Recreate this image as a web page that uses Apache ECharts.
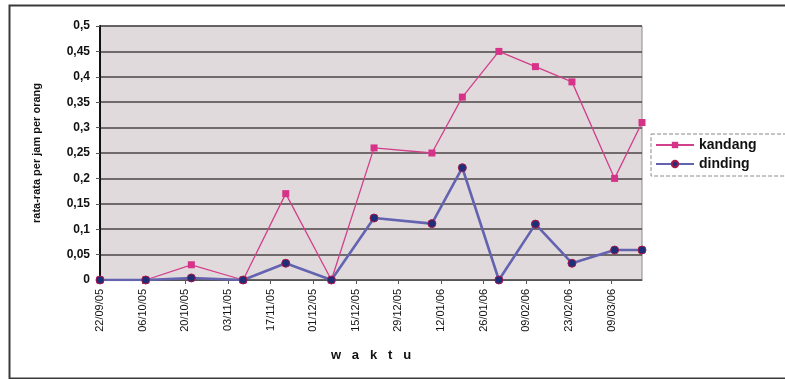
<!DOCTYPE html>
<html>
<head>
<meta charset="utf-8">
<script src="https://cdn.jsdelivr.net/npm/echarts@6/dist/echarts.min.js"></script>
<style>
  html, body { margin: 0; padding: 0; background: #ffffff; }
  #chart { width: 785px; height: 379px; }
</style>
</head>
<body>
<div id="chart"></div>
<script>
// Observation dates and mean values per hour per person
const tanggal = ['2005-09-22','2005-10-07','2005-10-22','2005-11-08','2005-11-22','2005-12-07','2005-12-21',
                 '2006-01-09','2006-01-19','2006-01-31','2006-02-12','2006-02-24','2006-03-10','2006-03-19'];
const kandang = [0, 0, 0.03, 0, 0.17, 0, 0.26, 0.25, 0.36, 0.45, 0.42, 0.39, 0.2, 0.31];
const dinding = [0, 0, 0.004, 0, 0.033, 0, 0.122, 0.111, 0.221, 0, 0.11, 0.033, 0.059, 0.059];
const yTicks = { min: 0, max: 0.5, step: 0.05 };
const xStepDays = 14;

const DAY = 86400000;
const t0 = Date.parse(tanggal[0]);
const hari = tanggal.map(d => Math.round((Date.parse(d) - t0) / DAY));
const pad = n => (n < 10 ? '0' : '') + n;
function fmtTanggal(offset) {
  const d = new Date(t0 + offset * DAY);
  return pad(d.getUTCDate()) + '/' + pad(d.getUTCMonth() + 1) + '/' + pad(d.getUTCFullYear() % 100);
}

const font = 'Liberation Sans, Arial, sans-serif';
const chart = echarts.init(document.getElementById('chart'), null, { renderer: 'canvas' });

chart.setOption({
  animation: false,
  backgroundColor: '#ffffff',
  graphic: [{
    type: 'rect', left: 7, top: 3, z: -10,
    shape: { width: 790, height: 373 },
    style: { fill: 'none', stroke: '#3a3a3a', lineWidth: 2 }
  }],
  grid: { left: 100, top: 26, right: 143, bottom: 99, show: true, backgroundColor: '#e1dadd', borderColor: '#8a8a8a', borderWidth: 1 },
  legend: {
    left: 651, top: 134, orient: 'vertical', itemGap: 5, itemWidth: 38, itemHeight: 8,
    padding: [4, 30, 5, 4],
    borderColor: '#8a8a8a', borderWidth: 1, borderType: 'dashed',
    textStyle: { fontFamily: font, fontWeight: 'bold', fontSize: 14, color: '#111' },
    data: ['kandang', 'dinding']
  },
  xAxis: {
    type: 'value', min: 0, max: hari[hari.length - 1], interval: xStepDays,
    name: 'w   a   k   t   u', nameLocation: 'middle', nameGap: 69,
    nameTextStyle: { fontFamily: font, fontWeight: 'bold', fontSize: 13, color: '#111' },
    axisLine: { show: true, lineStyle: { color: '#555', width: 1 } },
    axisTick: { show: true, length: 4, lineStyle: { color: '#555' } },
    splitLine: { show: false },
    axisLabel: {
      rotate: 90, margin: 9, showMaxLabel: false,
      fontFamily: font, fontSize: 11, color: '#111',
      formatter: v => (v % xStepDays === 0 ? fmtTanggal(v) : '')
    }
  },
  yAxis: {
    type: 'value', min: yTicks.min, max: yTicks.max, interval: yTicks.step,
    name: 'rata-rata per jam per orang', nameLocation: 'middle', nameGap: 58, nameRotate: 90,
    nameTextStyle: { fontFamily: font, fontWeight: 'bold', fontSize: 11, color: '#111' },
    axisLine: { show: true, lineStyle: { color: '#111', width: 2 } },
    axisTick: { show: true, length: 4, lineStyle: { color: '#555' } },
    splitLine: { show: true, lineStyle: { color: '#4a4444', width: 1.5 } },
    axisLabel: {
      margin: 10, fontFamily: font, fontWeight: 'bold', fontSize: 12, color: '#111',
      formatter: v => String(+v.toFixed(2)).replace('.', ',')
    }
  },
  series: [
    {
      name: 'kandang', type: 'line',
      data: hari.map((h, i) => [h, kandang[i]]),
      symbol: 'rect', symbolSize: 7,
      lineStyle: { color: '#d23f8a', width: 1.3 },
      itemStyle: { color: '#d7328a' },
      z: 3
    },
    {
      name: 'dinding', type: 'line',
      data: hari.map((h, i) => [h, dinding[i]]),
      symbol: 'circle', symbolSize: 8,
      lineStyle: { color: '#6463b0', width: 2.6 },
      itemStyle: { color: '#1c2f78', borderColor: '#a8184a', borderWidth: 1 },
      z: 4
    }
  ]
});
</script>
</body>
</html>
